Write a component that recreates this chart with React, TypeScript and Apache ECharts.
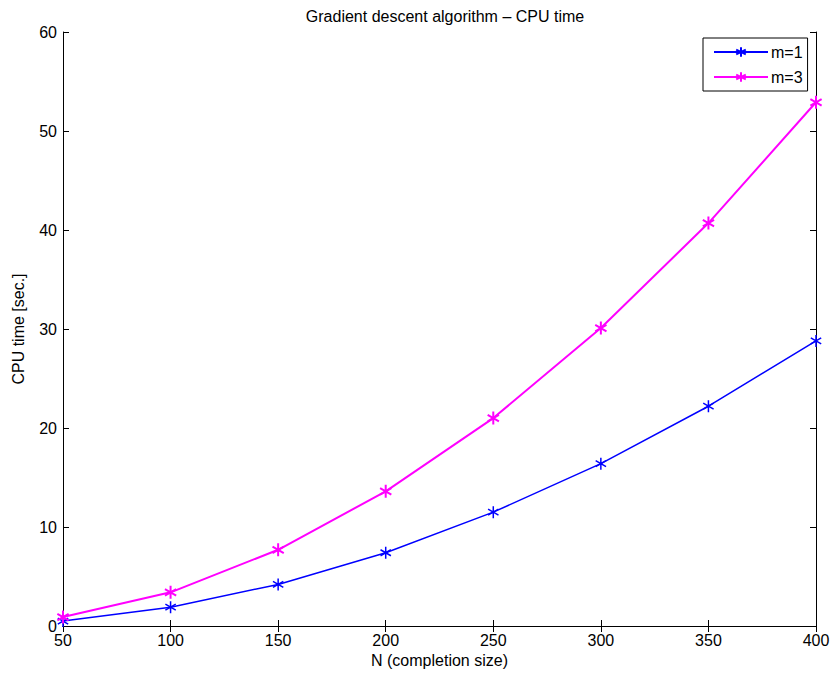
import React, { useEffect, useRef } from "react";
import * as echarts from "echarts";

const nValues = [50, 100, 150, 200, 250, 300, 350, 400];
const m1Times = [0.5, 1.9, 4.2, 7.4, 11.5, 16.4, 22.2, 28.8];
const m3Times = [0.9, 3.4, 7.7, 13.6, 21.0, 30.1, 40.7, 52.9];
const seriesNames = ["m=1", "m=3"];

const FONT = "'Liberation Sans', Arial, Helvetica, sans-serif";
const ASTERISK = "path://M0,-5L0,5M-4.33,-2.5L4.33,2.5M-4.33,2.5L4.33,-2.5";

export default function App() {
  const ref = useRef<HTMLDivElement>(null);
  useEffect(() => {
    if (!ref.current) return;
    const chart = echarts.init(ref.current, undefined, { renderer: "svg" });
    const axisCommon = {
      axisLine: { show: true, lineStyle: { color: "#000", width: 1 } },
      axisTick: { show: true, inside: true, length: 6, lineStyle: { color: "#000" } },
      splitLine: { show: false },
    };
    const mkSeries = (name: string, vals: number[], color: string, width: number, size: number) => ({
      name,
      type: "line",
      data: nValues.map((n, i) => [n, vals[i]]),
      lineStyle: { color, width },
      itemStyle: { color: "none", borderColor: color, borderWidth: width },
      symbol: ASTERISK,
      symbolSize: size,
      symbolKeepAspect: true,
      showSymbol: true,
      emphasis: { disabled: true },
    });
    chart.setOption({
      animation: false,
      backgroundColor: "#fff",
      title: {
        text: "Gradient descent algorithm \u2013 CPU time",
        left: 440,
        textAlign: "center",
        top: 3,
        textStyle: { fontFamily: FONT, fontSize: 16, fontWeight: "normal", color: "#000" },
      },
      grid: { left: 63, top: 32, right: 18, bottom: 48, containLabel: false },
      legend: {
        data: seriesNames,
        left: 703,
        top: 38,
        orient: "vertical",
        itemWidth: 54,
        itemHeight: 12,
        itemGap: 9,
        padding: [6, 5, 6, 10],
        backgroundColor: "#fff",
        borderColor: "#000",
        borderWidth: 1,
        borderRadius: 0,
        textStyle: { fontFamily: FONT, fontSize: 16, color: "#000", padding: [0, 0, 0, -2] },
      },
      xAxis: [
        {
          ...axisCommon,
          type: "value",
          min: 50,
          max: 400,
          interval: 50,
          name: "N (completion size)",
          nameLocation: "middle",
          nameGap: 23,
          nameTextStyle: { fontFamily: FONT, fontSize: 16, color: "#000" },
          axisLabel: { fontFamily: FONT, fontSize: 16, color: "#000", margin: 6 },
        },
        {
          ...axisCommon,
          type: "value",
          position: "top",
          min: 50,
          max: 400,
          interval: 50,
          axisLabel: { show: false },
        },
      ],
      yAxis: [
        {
          ...axisCommon,
          type: "value",
          min: 0,
          max: 60,
          interval: 10,
          name: "CPU time [sec.]",
          nameLocation: "middle",
          nameGap: 37,
          nameTextStyle: { fontFamily: FONT, fontSize: 16, color: "#000" },
          axisLabel: { fontFamily: FONT, fontSize: 16, color: "#000", margin: 6 },
        },
        {
          ...axisCommon,
          type: "value",
          position: "right",
          min: 0,
          max: 60,
          interval: 10,
          axisLabel: { show: false },
        },
      ],
      series: [
        mkSeries(seriesNames[0], m1Times, "#0000ff", 1.5, 12),
        mkSeries(seriesNames[1], m3Times, "#ff00ff", 2, 13),
      ],
    });
    return () => chart.dispose();
  }, []);
  return (
    <div
      ref={ref}
      style={{ position: "fixed", left: 0, top: 0, width: 834, height: 674 }}
    />
  );
}
